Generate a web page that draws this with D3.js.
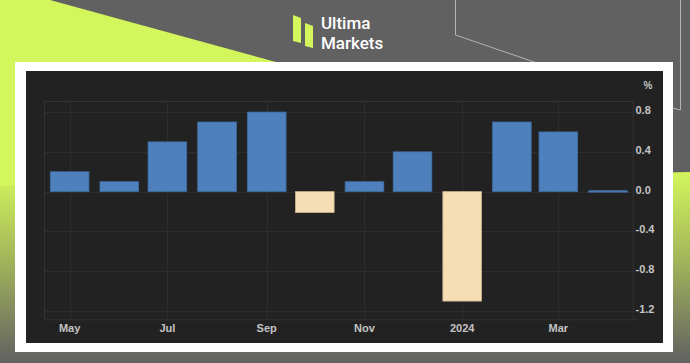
<!DOCTYPE html>
<html>
<head>
<meta charset="utf-8">
<script src="https://cdn.jsdelivr.net/npm/d3@7"></script>
<style>
  html, body { margin: 0; padding: 0; background: #616161; }
  svg { display: block; }
  .tick-lbl { font-family: "Liberation Sans", Arial, sans-serif; font-size: 11px; font-weight: bold; fill: #c4c4c4; }
</style>
</head>
<body>
<div id="chart"></div>
<script>
// monthly % change, May 2023 – Apr 2024
const months = ["2023-05-01","2023-06-01","2023-07-01","2023-08-01","2023-09-01","2023-10-01",
                "2023-11-01","2023-12-01","2024-01-01","2024-02-01","2024-03-01","2024-04-01"];
const values = [0.20, 0.10, 0.50, 0.70, 0.80, -0.21, 0.10, 0.40, -1.10, 0.70, 0.60, 0.01];

const xTickDates = ["2023-05-01","2023-07-01","2023-09-01","2023-11-01","2024-01-01","2024-03-01"];
const xTickLabels = ["May","Jul","Sep","Nov","2024","Mar"];
const yTicks = [-1.2, -0.8, -0.4, 0.0, 0.4, 0.8];

const W = 690, H = 363;
const lime = "#d3f65c", grey = "#616161";
const svg = d3.select("#chart").append("svg").attr("width", W).attr("height", H);

// ---- background decoration
const defs = svg.append("defs");
const grad = defs.append("linearGradient").attr("id", "fade")
  .attr("x1", 0).attr("y1", 0).attr("x2", 0).attr("y2", 1);
grad.append("stop").attr("offset", "0%").attr("stop-color", lime);
grad.append("stop").attr("offset", "45%").attr("stop-color", "#a4b65a");
grad.append("stop").attr("offset", "100%").attr("stop-color", grey);

svg.append("rect").attr("width", W).attr("height", H).attr("fill", grey);
svg.append("path").attr("fill", lime)
  .attr("d", "M0,0 L50,0 L560,140 L0,190 Z");
svg.append("path").attr("fill", "url(#fade)")
  .attr("d", "M0,186 L690,172 L690,363 L0,363 Z");
// thin outline lines top-right
svg.append("path").attr("fill", "none").attr("stroke", "#b4b4b4").attr("stroke-width", 1)
  .attr("d", "M455.5,0 L455.5,35 L540,64");
svg.append("path").attr("fill", "none").attr("stroke", "#b4b4b4").attr("stroke-width", 1)
  .attr("d", "M680.5,0 L680.5,110 L672,108");

// ---- logo
const logo = svg.append("g");
logo.append("path").attr("fill", lime).attr("d", "M293,15 L301,18 L301,43 L293,41 Z");
logo.append("path").attr("fill", lime).attr("d", "M305,23 L313,26 L313,48 L305,46 Z");
const brand = logo.append("text").attr("fill", "#fff")
  .attr("font-family", "Roboto, sans-serif").attr("font-size", 17).attr("font-weight", 500);
brand.append("tspan").attr("x", 321).attr("y", 29).text("Ultima");
brand.append("tspan").attr("x", 321).attr("y", 49).text("Markets");

// ---- frame + dark panel
svg.append("rect").attr("x", 15).attr("y", 62).attr("width", 658).attr("height", 290).attr("fill", "#fff");
svg.append("rect").attr("x", 26).attr("y", 71).attr("width", 637).attr("height", 272).attr("fill", "#222222");

// ---- scales
const parse = d3.utcParse("%Y-%m-%d");
const plot = { left: 44, right: 632.7, top: 101, bottom: 319.3 };
const x = d3.scaleUtc()
  .domain([Date.UTC(2023, 3, 15), Date.UTC(2024, 3, 16, 10)])
  .range([plot.left, plot.right]);
const y = d3.scaleLinear().domain([-1.283, 0.911]).range([plot.bottom, plot.top]);

const grid = svg.append("g").attr("stroke", "#2d2d2d").attr("stroke-width", 1);
grid.selectAll("line.h").data(yTicks).join("line").attr("class", "h")
  .attr("x1", plot.left).attr("x2", plot.right)
  .attr("y1", d => Math.round(y(d)) + 0.5).attr("y2", d => Math.round(y(d)) + 0.5);
grid.selectAll("line.v").data(xTickDates).join("line").attr("class", "v")
  .attr("x1", d => Math.round(x(parse(d))) + 0.5).attr("x2", d => Math.round(x(parse(d))) + 0.5)
  .attr("y1", plot.top).attr("y2", plot.bottom);
// plot frame
svg.append("path").attr("fill", "none").attr("stroke", "#333").attr("stroke-width", 1)
  .attr("d", `M${plot.left + 0.5},${plot.bottom + 0.5} V${plot.top + 0.5} H${plot.right + 0.5} V${plot.bottom + 0.5} M${plot.left},${plot.bottom + 0.5} H${plot.right + 6}`);

// ---- bars
const dates = months.map(parse);
const barW = (x(dates[11]) - x(dates[0])) / 11 * 0.79;
svg.append("g").selectAll("rect").data(values).join("rect")
  .attr("x", (d, i) => x(dates[i]) - barW / 2)
  .attr("width", barW)
  .attr("y", d => y(Math.max(0, d)))
  .attr("height", d => Math.max(1.5, Math.abs(y(d) - y(0))))
  .attr("fill", d => d < 0 ? "#f5deb3" : "#4e80bd")
  .attr("stroke", d => d < 0 ? "#cdb48b" : "#3f6b9f")
  .attr("stroke-width", 0.8);

// ---- axis labels
svg.append("g").selectAll("text").data(xTickDates).join("text").attr("class", "tick-lbl")
  .attr("x", d => x(parse(d))).attr("y", 332).attr("text-anchor", "middle")
  .text((d, i) => xTickLabels[i]);
svg.append("g").selectAll("text").data(yTicks).join("text").attr("class", "tick-lbl")
  .attr("x", 635.5).attr("y", d => y(d) + 2).attr("text-anchor", "start")
  .text(d => d.toFixed(1));
svg.append("text").attr("class", "tick-lbl").attr("x", 648).attr("y", 89)
  .attr("text-anchor", "middle").style("font-size", "10px").text("%");
</script>
</body>
</html>
